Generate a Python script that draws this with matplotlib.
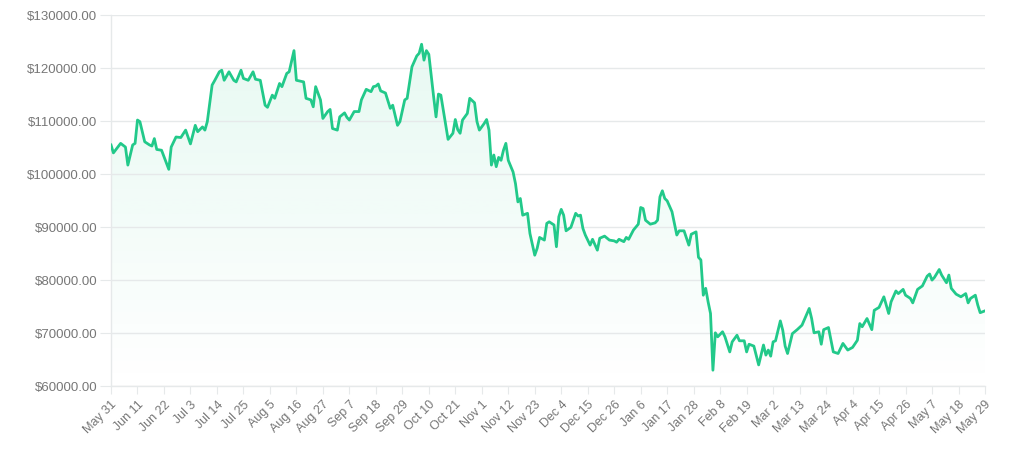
import numpy as np
import matplotlib
matplotlib.use('Agg')
import matplotlib.pyplot as plt
from matplotlib.ticker import FuncFormatter

# day offset from May 31 and price
days = [0, 1, 4, 6, 7, 9, 10, 11, 12, 14, 16, 17, 18, 19, 21, 24, 25, 27, 29, 31,
        33, 35, 36, 38, 39, 40, 42, 43, 45, 46, 47, 49, 51, 52, 54, 55, 57, 59, 60, 62,
        64, 65, 67, 68, 70, 71, 73, 74, 76, 77, 80, 81, 83, 84, 85, 87, 88, 90, 91, 92,
        94, 95, 97, 98, 99, 101, 103, 104, 106, 108, 109, 110, 111, 112, 114, 116, 117, 119, 120, 122,
        123, 125, 127, 128, 129, 130, 131, 132, 134, 135, 136, 137, 138, 140, 142, 143, 144, 145, 146, 148,
        149, 151, 152, 153, 155, 156, 157, 158, 159, 160, 161, 162, 163, 164, 165, 167, 168, 169, 170, 171,
        173, 174, 176, 177, 178, 180, 181, 182, 184, 185, 186, 187, 188, 189, 191, 193, 194, 195, 196, 197,
        199, 200, 202, 203, 205, 207, 209, 210, 211, 213, 214, 215, 217, 219, 220, 221, 222, 224, 226, 227,
        228, 229, 230, 231, 233, 235, 236, 238, 240, 241, 243, 244, 245, 246, 247, 248, 249, 250, 251, 252,
        254, 255, 257, 258, 260, 261, 263, 264, 265, 267, 269, 271, 272, 273, 274, 275, 276, 278, 279, 280,
        281, 283, 285, 287, 290, 291, 292, 294, 295, 296, 298, 300, 302, 304, 306, 308, 310, 311, 312, 314,
        316, 317, 319, 321, 323, 324, 326, 327, 329, 330, 332, 333, 335, 337, 339, 340, 341, 342, 344, 345,
        347, 348, 349, 351, 353, 355, 356, 357, 359, 360, 361, 363]
prices = [105500, 104000, 105800, 105100, 101700, 105500, 105800, 110200, 109900, 106100,
          105500, 105300, 106700, 104650, 104500, 100900, 105100, 107000, 106900, 108300,
          105700, 109200, 108000, 108900, 108300, 109900, 116800, 117600, 119300, 119600,
          117700, 119300, 117700, 117400, 119600, 118050, 117700, 119300, 117900, 117700,
          113000, 112600, 114900, 114300, 117100, 116500, 119000, 119300, 123300, 117700,
          117400, 114300, 114000, 112700, 116500, 114000, 110500, 111800, 112200, 108600,
          108300, 110800, 111550, 110700, 110200, 111800, 111800, 114000, 116000, 115550,
          116500, 116600, 117000, 115700, 115300, 112400, 113000, 109200, 109900, 114000,
          114300, 120250, 122300, 122800, 124500, 121500, 123300, 122600, 114600, 110800,
          115100, 114900, 112100, 106550, 107700, 110300, 108400, 107700, 110200, 111450,
          114300, 113450, 109900, 108300, 109550, 110300, 108300, 101700, 103600, 101400,
          103150, 102600, 104500, 105800, 102600, 100400, 98200, 94750, 95400, 92250,
          92600, 88800, 84700, 86000, 88050, 87550, 90700, 91000, 90400, 86300,
          91950, 93350, 92250, 89300, 89950, 92600, 92100, 92250, 89750, 88500,
          86600, 87700, 85650, 87900, 88300, 87550, 87400, 87150, 87700, 87250,
          88050, 87700, 89450, 90550, 93700, 93500, 91300, 90550, 90800, 91300,
          95700, 96850, 95400, 94950, 92900, 88500, 89300, 89300, 86600, 88650,
          89100, 84300, 83800, 77150, 78450, 75900, 73700, 63000, 70050, 69300,
          70250, 69300, 66450, 68350, 69600, 68550, 68550, 66450, 67900, 67550,
          64000, 67750, 65850, 66800, 65650, 68350, 68550, 72300, 70550, 67550,
          66150, 69900, 70650, 71500, 74650, 72750, 70050, 70250, 67900, 70650,
          71050, 66450, 66150, 68050, 66800, 67300, 68650, 71800, 71200, 72750,
          70650, 74300, 74850, 76850, 73700, 75900, 77950, 77450, 78250, 77150,
          76550, 75700, 78250, 78900, 80750, 81150, 80000, 80500, 82000, 80950,
          79500, 80950, 78450, 77350, 76850, 77450, 75700, 76550, 77150, 75300,
          73850, 74200]

tick_days = list(range(0, 364, 11))
tick_labels = ['May 31', 'Jun 11', 'Jun 22', 'Jul 3', 'Jul 14', 'Jul 25', 'Aug 5', 'Aug 16',
               'Aug 27', 'Sep 7', 'Sep 18', 'Sep 29', 'Oct 10', 'Oct 21', 'Nov 1', 'Nov 12',
               'Nov 23', 'Dec 4', 'Dec 15', 'Dec 26', 'Jan 6', 'Jan 17', 'Jan 28', 'Feb 8',
               'Feb 19', 'Mar 2', 'Mar 13', 'Mar 24', 'Apr 4', 'Apr 15', 'Apr 26', 'May 7',
               'May 18', 'May 29']
y_ticks = list(range(60000, 130001, 10000))

LINE = '#22c98a'
GRID = '#e6e9ea'
TXT = '#777777'

plt.rcParams['font.family'] = ['Liberation Sans', 'DejaVu Sans']

fig = plt.figure(figsize=(10.24, 4.72), dpi=100)
ax = fig.add_axes([0.1084, 0.182, 0.8535, 0.786])

x = np.array(days)
y = np.array(prices)

# gradient fill under the line
poly = ax.fill_between(x, y, 60000, color='none', lw=0)
grad = np.linspace(0.11, 0.0, 256).reshape(-1, 1)
rgba = np.zeros((256, 1, 4))
rgba[..., :3] = matplotlib.colors.to_rgb(LINE)
rgba[..., 3] = grad
im = ax.imshow(rgba, extent=[0, 363, 60000, 125000], aspect='auto', origin='upper', zorder=1)
im.set_clip_path(poly.get_paths()[0], transform=ax.transData)

ax.plot(x, y, color=LINE, lw=2.0, zorder=3, solid_joinstyle='round')

ax.set_xlim(0, 363)
ax.set_ylim(60000, 130000)
ax.set_yticks(y_ticks)
ax.yaxis.set_major_formatter(FuncFormatter(lambda v, p: f'${v:.2f}'))
ax.set_xticks(tick_days)
ax.set_xticklabels(tick_labels, rotation=45, ha='right', rotation_mode='anchor')

ax.grid(axis='y', color=GRID, lw=1, zorder=0)
for s in ['top', 'right']:
    ax.spines[s].set_visible(False)
for s in ['left', 'bottom']:
    ax.spines[s].set_color(GRID)
    ax.spines[s].set_linewidth(1)
ax.tick_params(axis='y', length=8, color=GRID, labelcolor=TXT, labelsize=9.5, pad=2)
ax.tick_params(axis='x', length=6, color=GRID, labelcolor=TXT, labelsize=9, pad=3)

fig.savefig('out.png', dpi=100, facecolor='white')
